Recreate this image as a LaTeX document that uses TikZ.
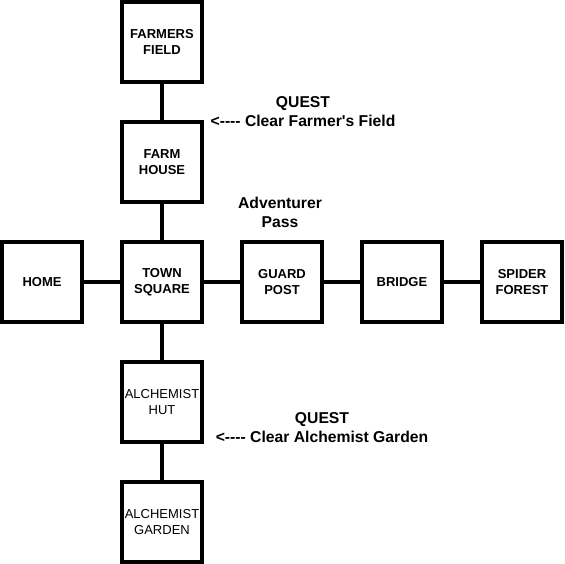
\documentclass[tikz,border=0pt]{standalone}
\usepackage{fontspec}
\setmainfont{Liberation Sans}[Ligatures=TeXOff]
\usetikzlibrary{positioning}

\tikzset{
  room/.style={draw, line width=3.5pt, minimum size=80pt, inner sep=0pt,
    align=center, font=\fontsize{13}{16}\selectfont\bfseries},
  plainroom/.style={room, font=\fontsize{13}{16}\selectfont},
  path/.style={line width=3.5pt},
  note/.style={align=center, font=\fontsize{15.7}{19}\selectfont\bfseries}
}

\begin{document}
\begin{tikzpicture}[x=1pt,y=-1pt]
\useasboundingbox (0,0) rectangle (564,564);

\node[room] (field) at (162,42) {FARMERS\\FIELD};
\node[room] (farm) at (162,162) {FARM\\HOUSE};
\node[room] (home) at (42,282) {HOME};
\node[room] (town) at (162,282) {TOWN\\SQUARE};
\node[room] (guard) at (282,282) {GUARD\\POST};
\node[room] (bridge) at (402,282) {BRIDGE};
\node[room] (forest) at (522,282) {SPIDER\\FOREST};
\node[plainroom] (hut) at (162,402) {ALCHEMIST\\HUT};
\node[plainroom] (garden) at (162,522) {ALCHEMIST\\GARDEN};

\draw[path] (field) -- (farm);
\draw[path] (farm) -- (town);
\draw[path] (home) -- (town);
\draw[path] (town) -- (guard);
\draw[path] (guard) -- (bridge);
\draw[path] (bridge) -- (forest);
\draw[path] (town) -- (hut);
\draw[path] (hut) -- (garden);

\node[note] (quest1) at (303,112) {QUEST\\<---- Clear Farmer's Field};
\node[note] (pass) at (280,212) {Adventurer\\Pass};
\node[note] (quest2) at (322,428) {QUEST\\<---- Clear Alchemist Garden};

\end{tikzpicture}
\end{document}
